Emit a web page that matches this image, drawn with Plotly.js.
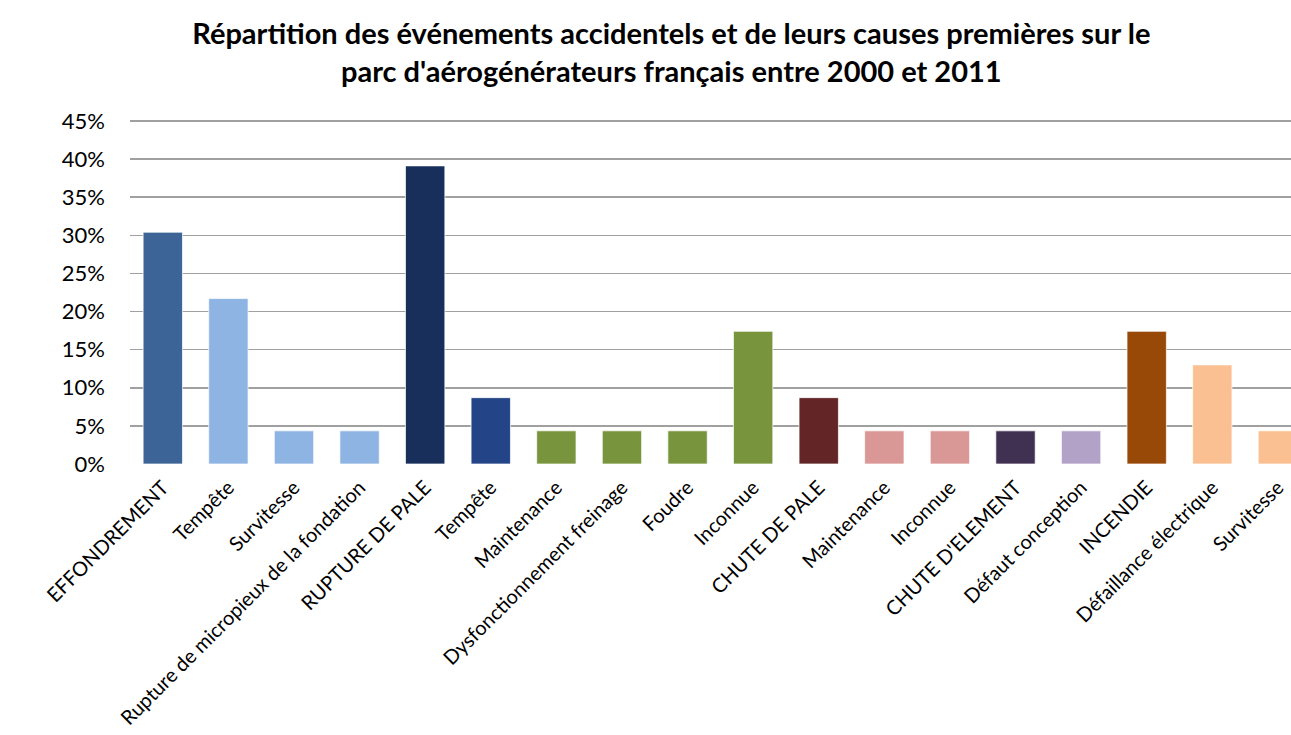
<!DOCTYPE html>
<html>
<head>
<meta charset="utf-8">
<script src="https://cdn.plot.ly/plotly-3.0.1.min.js"></script>
<style>
  body { margin: 0; background: #fff; }
  #myGraph { width: 1291px; height: 735px; }
</style>
</head>
<body>
<div id="myGraph"></div>
<script>
"use strict";

// categories (events in capitals, causes below them)
var categories = [
    'EFFONDREMENT', 'Tempête', 'Survitesse', 'Rupture de micropieux de la fondation',
    'RUPTURE DE PALE', 'Tempête', 'Maintenance', 'Dysfonctionnement freinage',
    'Foudre', 'Inconnue', 'CHUTE DE PALE', 'Maintenance', 'Inconnue',
    "CHUTE D'ELEMENT", 'Défaut conception', 'INCENDIE', 'Défaillance électrique',
    'Survitesse'
];

// share of events (%)
var values = [
    30.4, 21.7, 4.35, 4.35,
    39.1, 8.7, 4.35, 4.35,
    4.35, 17.4, 8.7, 4.35, 4.35,
    4.35, 4.35, 17.4, 13.0,
    4.35
];

// bar colours
var colors = [
    '#3c6496', '#8eb4e3', '#8eb4e3', '#8eb4e3',
    '#172f5a', '#234486', '#78943d', '#78943d',
    '#78943d', '#78943d', '#632526', '#d99795', '#d99795',
    '#403152', '#b3a2c8', '#984807', '#fac091',
    '#fac091'
];

// y tick labels
var yTicks = [0, 5, 10, 15, 20, 25, 30, 35, 40, 45];
var yTickText = ['0%', '5%', '10%', '15%', '20%', '25%', '30%', '35%', '40%', '45%'];

// category positions (labels repeat, so plot on index)
var idx = [];
for (var i = 0; i < categories.length; i++) { idx.push(i); }

var trace = {
    type: 'bar',
    x: idx,
    y: values,
    marker: {
        color: colors,
        line: { color: 'rgba(255,255,255,0.7)', width: 1 }
    },
    width: 0.6,
    hoverinfo: 'skip'
};

var layout = {
    width: 1291,
    height: 735,
    margin: { l: 130, r: 0, t: 119, b: 271 },
    paper_bgcolor: '#ffffff',
    plot_bgcolor: '#ffffff',
    font: { family: 'Lato, "Open Sans", sans-serif', color: '#000000' },
    showlegend: false,
    title: {
        text: 'Répartition des événements accidentels et de leurs causes premières sur le<br>parc d\'aérogénérateurs français entre 2000 et 2011',
        font: { family: 'Lato, "Open Sans", sans-serif', size: 29, color: '#000000', weight: 'bold' },
        x: 0.52,
        xanchor: 'center',
        y: 0.94,
        yanchor: 'top'
    },
    xaxis: {
        tickmode: 'array',
        tickvals: idx,
        ticktext: categories,
        tickangle: -45,
        range: [-0.5, 17.2],
        showgrid: false,
        zeroline: false,
        showline: false,
        ticks: '',
        ticklabelstandoff: 7,
        tickfont: { size: 20 },
        fixedrange: true
    },
    yaxis: {
        range: [0, 45.25],
        tickmode: 'array',
        tickvals: yTicks,
        ticktext: yTickText,
        showgrid: true,
        gridcolor: '#a0a0a0',
        gridwidth: 1.5,
        zeroline: false,
        showline: false,
        ticks: '',
        ticklabelstandoff: 24,
        tickfont: { size: 22 },
        fixedrange: true
    }
};

Plotly.newPlot('myGraph', [trace], layout, { displayModeBar: false, staticPlot: true });
</script>
</body>
</html>
